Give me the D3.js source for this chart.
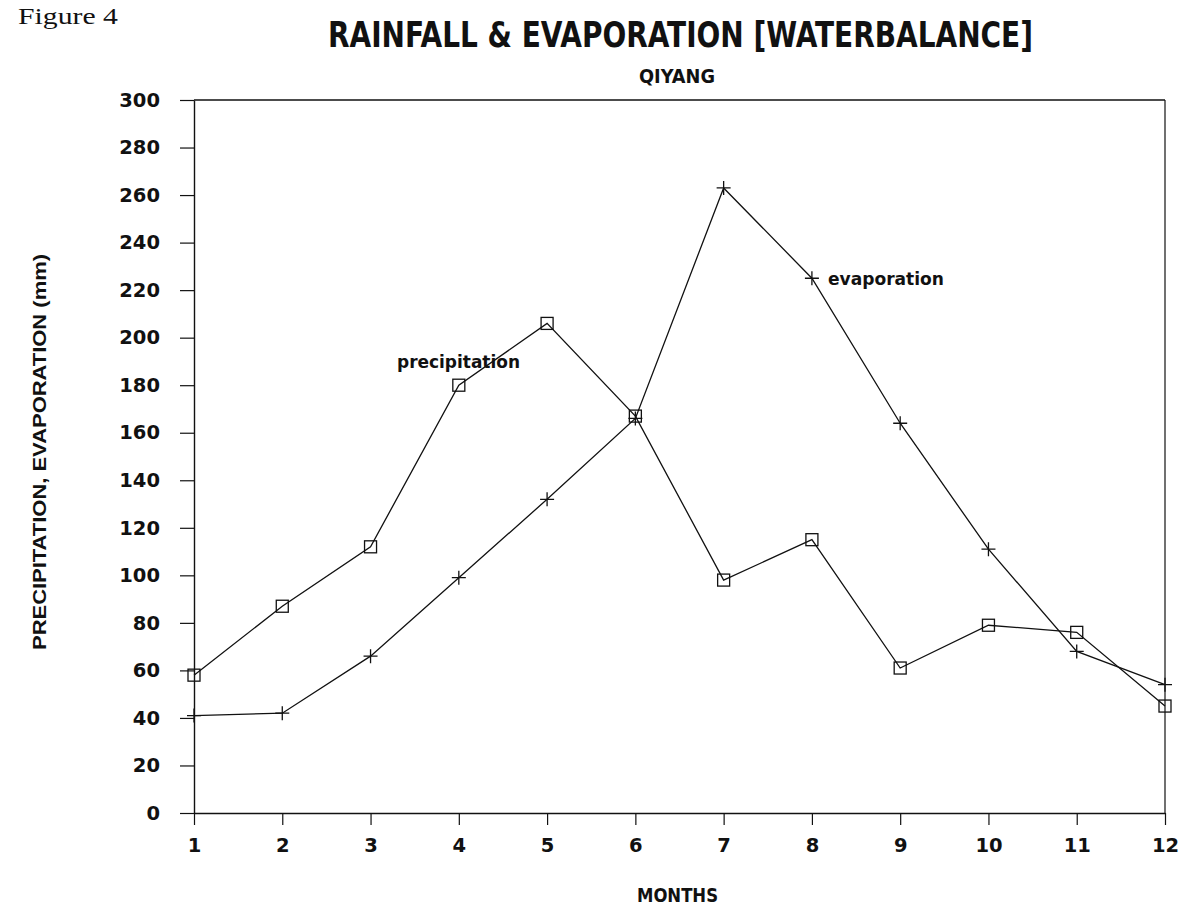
<!DOCTYPE html>
<html>
<head>
<meta charset="utf-8">
<script src="https://cdn.jsdelivr.net/npm/d3@7"></script>
<style>
  html, body { margin: 0; padding: 0; background: #fff; }
  svg text { fill: #111; }
</style>
</head>
<body>
<svg id="chart" width="1182" height="908"></svg>
<script>
// ---- data ----
const months = [1, 2, 3, 4, 5, 6, 7, 8, 9, 10, 11, 12];
const precipitation = [58, 87, 112, 180, 206, 167, 98, 115, 61, 79, 76, 45];
const evaporation = [41, 42, 66, 99, 132, 166, 263, 225, 164, 111, 68, 54];
const yTicks = [0, 20, 40, 60, 80, 100, 120, 140, 160, 180, 200, 220, 240, 260, 280, 300];
const xTicks = months;

(function () {
const svg = d3.select("#chart");
const pLeft = 194, pRight = 1165, pTop = 100, pBottom = 813;

const x = d3.scaleLinear().domain([1, 12]).range([pLeft, pRight]);
const y = d3.scaleLinear().domain([0, 300]).range([pBottom, pTop]);

const sans = "'DejaVu Sans', 'Liberation Sans', Arial, sans-serif";
const lsans = "'Liberation Sans', Arial, sans-serif";

// frame (top & right)
svg.append("line").attr("x1", pLeft).attr("x2", pRight).attr("y1", pTop).attr("y2", pTop)
  .attr("stroke", "#111").attr("stroke-width", 1.4);
svg.append("line").attr("x1", pRight).attr("x2", pRight).attr("y1", pTop).attr("y2", pBottom)
  .attr("stroke", "#111").attr("stroke-width", 1.2);

// y axis
const yAxis = svg.append("g").attr("transform", `translate(${pLeft},0)`)
  .call(d3.axisLeft(y).tickValues(yTicks).tickSize(14).tickPadding(20).tickSizeOuter(0));
yAxis.select(".domain").attr("stroke", "#111").attr("stroke-width", 1.4);
yAxis.selectAll(".tick line").attr("stroke", "#111").attr("stroke-width", 1.2);
yAxis.selectAll(".tick text").attr("font-family", sans).attr("font-weight", "bold")
  .attr("font-size", 19.5).attr("fill", "#111");

// x axis
const xAxis = svg.append("g").attr("transform", `translate(0,${pBottom})`)
  .call(d3.axisBottom(x).tickValues(xTicks).tickFormat(d3.format("d")).tickSize(12).tickPadding(13).tickSizeOuter(0));
xAxis.select(".domain").attr("stroke", "#111").attr("stroke-width", 1.4);
xAxis.selectAll(".tick line").attr("stroke", "#111").attr("stroke-width", 1.2);
xAxis.selectAll(".tick text").attr("font-family", sans).attr("font-weight", "bold")
  .attr("font-size", 19.5).attr("fill", "#111");

// lines
const line = d3.line().x((d, i) => x(months[i])).y(d => y(d));
svg.append("path").datum(precipitation).attr("d", line)
  .attr("fill", "none").attr("stroke", "#111").attr("stroke-width", 1.3);
svg.append("path").datum(evaporation).attr("d", line)
  .attr("fill", "none").attr("stroke", "#111").attr("stroke-width", 1.3);

// square markers
svg.append("g").selectAll("rect").data(precipitation).join("rect")
  .attr("x", (d, i) => x(months[i]) - 6).attr("y", d => y(d) - 6)
  .attr("width", 12).attr("height", 12)
  .attr("fill", "none").attr("stroke", "#111").attr("stroke-width", 1.3);

// cross markers
svg.append("g").selectAll("path").data(evaporation).join("path")
  .attr("transform", (d, i) => `translate(${x(months[i])},${y(d)})`)
  .attr("d", () => { const s = 7; return `M${-s},0H${s}M0,${-s}V${s}`; })
  .attr("fill", "none").attr("stroke", "#111").attr("stroke-width", 1.3);

// series labels
svg.append("text").attr("x", 397).attr("y", 368).text("precipitation")
  .attr("font-family", sans).attr("font-weight", "bold").attr("font-size", 18)
  .attr("textLength", 123).attr("lengthAdjust", "spacingAndGlyphs");
svg.append("text").attr("x", 828).attr("y", 285).text("evaporation")
  .attr("font-family", sans).attr("font-weight", "bold").attr("font-size", 18)
  .attr("textLength", 116).attr("lengthAdjust", "spacingAndGlyphs");

// titles
svg.append("text").attr("x", 18).attr("y", 24).text("Figure 4")
  .attr("font-family", "'Liberation Serif', 'DejaVu Serif', serif").attr("font-size", 23)
  .attr("textLength", 100).attr("lengthAdjust", "spacingAndGlyphs");
svg.append("text").attr("x", 328).attr("y", 47).text("RAINFALL & EVAPORATION [WATERBALANCE]")
  .attr("font-family", "'Liberation Sans Narrow', 'DejaVu Sans Condensed', " + lsans)
  .attr("font-weight", "bold").attr("font-size", 35)
  .attr("textLength", 705).attr("lengthAdjust", "spacingAndGlyphs");
svg.append("text").attr("x", 639).attr("y", 83).text("QIYANG")
  .attr("font-family", sans).attr("font-weight", "bold").attr("font-size", 19)
  .attr("textLength", 76).attr("lengthAdjust", "spacingAndGlyphs");
svg.append("text").attr("x", 637).attr("y", 902).text("MONTHS")
  .attr("font-family", sans).attr("font-weight", "bold").attr("font-size", 19)
  .attr("textLength", 81).attr("lengthAdjust", "spacingAndGlyphs");
svg.append("text").attr("transform", "translate(46,452) rotate(-90)")
  .attr("text-anchor", "middle").text("PRECIPITATION, EVAPORATION (mm)")
  .attr("font-family", lsans).attr("font-weight", "bold").attr("font-size", 18)
  .attr("textLength", 396).attr("lengthAdjust", "spacingAndGlyphs");
})();
</script>
</body>
</html>
